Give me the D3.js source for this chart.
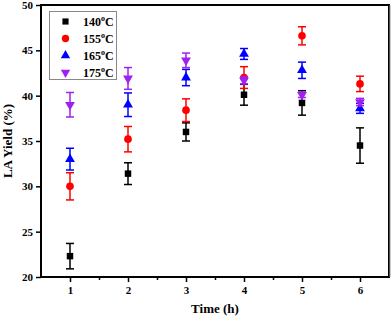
<!DOCTYPE html>
<html><head><meta charset="utf-8">
<script src="https://cdn.jsdelivr.net/npm/d3@7"></script>
<style>body{margin:0;background:#fff}svg{display:block}text{font-family:"Liberation Serif","Times New Roman",serif;font-weight:bold}</style>
</head><body>
<script>
const times = [1, 2, 3, 4, 5, 6];
const seriesNames = ["140", "155", "165", "175"];
const y140 = [22.3, 31.4, 36.0, 40.1, 39.2, 34.5];
const e140 = [1.4, 1.2, 1.0, 1.15, 1.35, 1.95];
const y155 = [30.0, 35.2, 38.4, 42.0, 46.6, 41.3];
const e155 = [1.5, 1.4, 1.25, 1.2, 1.0, 0.85];
const y165 = [33.0, 39.0, 42.0, 44.6, 42.8, 38.6];
const e165 = [1.2, 1.3, 0.9, 0.6, 0.9, 0.55];
const y175 = [39.0, 41.9, 43.9, 41.7, 40.1, 39.3];
const e175 = [1.35, 1.2, 0.8, 0.4, 0.3, 0.4];
const xTicks = [1, 2, 3, 4, 5, 6];
const yTicks = [20, 25, 30, 35, 40, 45, 50];

const colors = ["#000000", "#ff0000", "#0000ff", "#a020f0"];
const symbols = [d3.symbolSquare, d3.symbolCircle, d3.symbolTriangle, "down"];
const ys = [y140, y155, y165, y175];
const es = [e140, e155, e165, e175];

const W = 392, H = 321;
const m = {l: 41, r: 3, t: 5, b: 44};
const svg = d3.select("body").append("svg").attr("width", W).attr("height", H);
const x = d3.scaleLinear().domain([0.5, 6.5]).range([m.l, W - m.r]);
const y = d3.scaleLinear().domain([20, 50]).range([H - m.b, m.t]);

function sym(i, size) {
  if (symbols[i] === "down") {
    return d3.symbol().type(d3.symbolTriangle).size(size)();
  }
  return d3.symbol().type(symbols[i]).size(size)();
}
const sizes = [42, 46, 42, 42];

// axes
const xa = svg.append("g").attr("transform", `translate(0,${H - m.b})`)
  .call(d3.axisBottom(x).tickValues(xTicks).tickFormat(d3.format("d")).tickSize(5).tickPadding(4));
const xm = svg.append("g").attr("transform", `translate(0,${H - m.b})`)
  .call(d3.axisBottom(x).tickValues([1.5, 2.5, 3.5, 4.5, 5.5]).tickFormat("").tickSize(3));
const ya = svg.append("g").attr("transform", `translate(${m.l},0)`)
  .call(d3.axisLeft(y).tickValues(yTicks).tickFormat(d3.format("d")).tickSize(5).tickPadding(3));
[xa, xm, ya].forEach(g => {
  g.select(".domain").remove();
  g.selectAll("line").attr("stroke", "#000").attr("stroke-width", 1.5);
  g.selectAll("text").attr("font-size", 11).attr("fill", "#000");
});

// frame
svg.append("rect").attr("x", m.l).attr("y", m.t).attr("width", W - m.r - m.l).attr("height", H - m.b - m.t)
  .attr("fill", "none").attr("stroke", "#000").attr("stroke-width", 2);
svg.append("line").attr("x1", W - m.r + 1).attr("x2", W - m.r + 1).attr("y1", m.t).attr("y2", H - m.b)
  .attr("stroke", "#999").attr("stroke-width", 1);

// data
ys.forEach((vals, i) => {
  const g = svg.append("g");
  const c = colors[i];
  const d = times.map((t, k) => ({t, v: vals[k], e: es[i][k]}));
  g.selectAll(".eb").data(d).join("line").attr("x1", p => x(p.t)).attr("x2", p => x(p.t))
    .attr("y1", p => y(p.v - p.e)).attr("y2", p => y(p.v + p.e)).attr("stroke", c).attr("stroke-width", 1.5);
  ["top", "bot"].forEach(s => {
    g.selectAll(".cap" + s).data(d).join("line")
      .attr("x1", p => x(p.t) - 4).attr("x2", p => x(p.t) + 4)
      .attr("y1", p => y(s === "top" ? p.v + p.e : p.v - p.e))
      .attr("y2", p => y(s === "top" ? p.v + p.e : p.v - p.e))
      .attr("stroke", c).attr("stroke-width", 1.5);
  });
  g.selectAll("path").data(d).join("path").attr("d", sym(i, sizes[i]))
    .attr("transform", p => `translate(${x(p.t)},${y(p.v)})` + (symbols[i] === "down" ? " rotate(180)" : ""))
    .attr("fill", c);
});

// legend
const lg = svg.append("g");
lg.append("rect").attr("x", 49.5).attr("y", 11.5).attr("width", 67).attr("height", 68)
  .attr("fill", "#fff").attr("stroke", "#888").attr("stroke-width", 1);
seriesNames.forEach((n, i) => {
  const yy = 21.5 + i * 17;
  lg.append("path").attr("d", sym(i, sizes[i] - 4))
    .attr("transform", `translate(65.5,${yy})` + (symbols[i] === "down" ? " rotate(180)" : "")).attr("fill", colors[i]);
  const t = lg.append("text").attr("x", 83).attr("y", yy + 4).attr("font-size", 12).attr("fill", "#000");
  t.append("tspan").text(n);
  t.append("tspan").attr("dy", -5).attr("font-size", 8).text("o");
  t.append("tspan").attr("dy", 5).text("C");
});

// axis titles
svg.append("text").attr("x", (m.l + W - m.r) / 2).attr("y", 313).attr("text-anchor", "middle")
  .attr("font-size", 13).text("Time (h)");
svg.append("text").attr("transform", `translate(12,${(m.t + H - m.b) / 2}) rotate(-90)`)
  .attr("text-anchor", "middle").attr("font-size", 13).text("LA Yield (%)");
</script>
</body></html>
